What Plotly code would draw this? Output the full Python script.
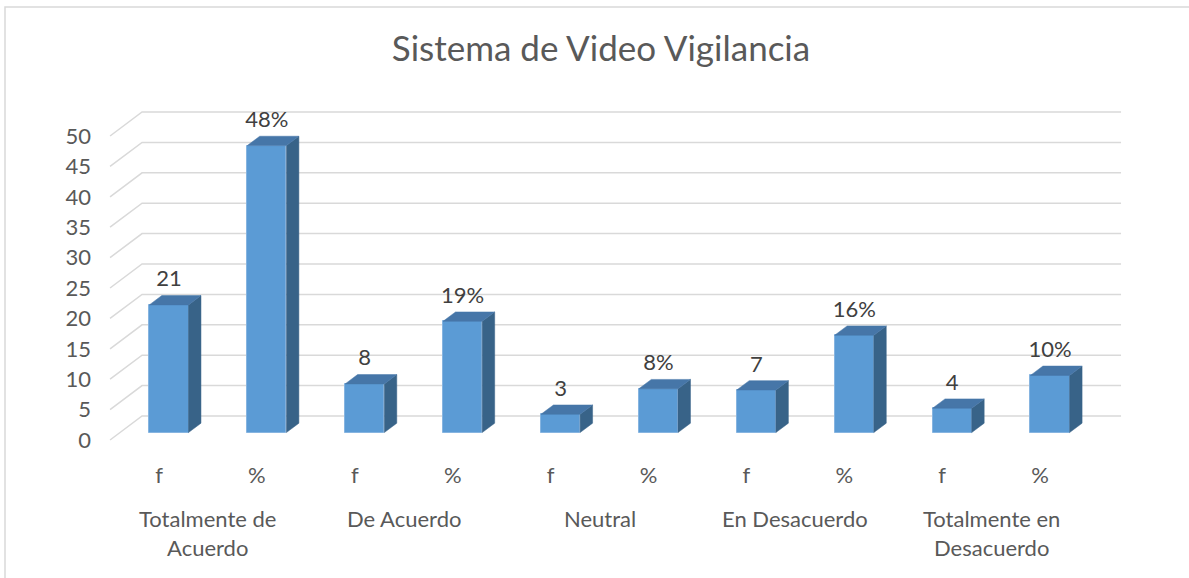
import plotly.graph_objects as go

# ---------------- data ----------------
title_text = "Sistema de Video Vigilancia"
groups = ["Totalmente de<br>Acuerdo", "De Acuerdo", "Neutral", "En Desacuerdo", "Totalmente en<br>Desacuerdo"]
sub_labels = ["f", "%"]
f_values = [21, 8, 3, 7, 4]
pct_values = [47.2, 18.3, 7.2, 16.0, 9.4]
f_text = ["21", "8", "3", "7", "4"]
pct_text = ["48%", "19%", "8%", "16%", "10%"]
y_ticks = [0, 5, 10, 15, 20, 25, 30, 35, 40, 45, 50]

# interleave f / % per group
values, texts, tick_text = [], [], []
for fv, pv, ft, pt in zip(f_values, pct_values, f_text, pct_text):
    values += [fv, pv]
    texts += [ft, pt]
    tick_text += sub_labels
positions = list(range(len(values)))

# ---------------- layout geometry (pixels) ----------------
W, H = 1189, 578
L, R, T, B = 92, 1149, 90, 460
PX_X = 97.9          # px per slot
X0_PIX = 159         # pixel of slot 0 (front)
PX_Y = 6.08          # px per unit
Y0_PIX = 440         # pixel of value 0 (front)
x_range = [(L - X0_PIX) / PX_X, (R - X0_PIX) / PX_X]
y_range = [(Y0_PIX - B) / PX_Y, (Y0_PIX - T) / PX_Y]

# oblique "3D" depth offsets (in data units)
DX = 32 / PX_X
DY = 24 / PX_Y
FD, BD = 0.31, 0.70   # bar front / back depth fractions
BW = 0.40             # bar width (slots)

FRONT = "#5B9BD5"
TOP = "#4676A8"
SIDE = "#386388"
GRID = "#D9D9D9"
TXT = "#595959"
FONT = "Lato"
FS = 22

fig = go.Figure()

# side and top faces
for x, v in zip(positions, values):
    xc = x + FD * DX
    xl, xr = xc - BW / 2, xc + BW / 2
    yb = FD * DY
    yt = v + FD * DY
    ddx, ddy = (BD - FD) * DX, (BD - FD) * DY
    fig.add_trace(go.Scatter(
        x=[xr, xr + ddx, xr + ddx, xr, xr],
        y=[yb, yb + ddy, yt + ddy, yt, yb],
        mode="lines", fill="toself", fillcolor=SIDE,
        line=dict(width=0.5, color=SIDE), hoverinfo="skip", showlegend=False))
    fig.add_trace(go.Scatter(
        x=[xl, xl + ddx, xr + ddx, xr, xl],
        y=[yt, yt + ddy, yt + ddy, yt, yt],
        mode="lines", fill="toself", fillcolor=TOP,
        line=dict(width=0.5, color=TOP), hoverinfo="skip", showlegend=False))

# front faces
fig.add_trace(go.Bar(
    x=[p + FD * DX for p in positions], y=values, base=[FD * DY] * len(values),
    width=BW, marker=dict(color=FRONT, line=dict(color="#86B4E0", width=1)),
    showlegend=False, hoverinfo="skip"))

# data labels
fig.add_trace(go.Scatter(
    x=[p + FD * DX for p in positions], y=[v + FD * DY + DY for v in values],
    mode="text", text=texts, textposition="middle center",
    textfont=dict(family=FONT, size=FS, color="#404040"),
    cliponaxis=False, showlegend=False, hoverinfo="skip"))

# gridlines on back wall with perspective slants (drawn below the bars)
x_left, x_right = -0.5, len(values) - 0.5
shapes = []
for t in y_ticks:
    path = f"M {x_left},{t} L {x_left + DX},{t + DY} L {x_right + DX},{t + DY}"
    shapes.append(dict(type="path", path=path, xref="x", yref="y", layer="below",
                       line=dict(color=GRID, width=1.5)))

# chart border
def px2paper_x(px):
    return (px - L) / (R - L)

def px2paper_y(py):
    return (B - py) / (B - T)

shapes.append(dict(type="rect", xref="paper", yref="paper",
                   x0=px2paper_x(5), x1=px2paper_x(1200), y0=px2paper_y(600), y1=px2paper_y(7),
                   line=dict(color=GRID, width=1.5), layer="below"))

# group labels
annotations = []
for i, g in enumerate(groups):
    annotations.append(dict(
        x=2 * i + 0.5, xref="x", y=px2paper_y(503), yref="paper",
        text=g, showarrow=False, xanchor="center", yanchor="top",
        font=dict(family=FONT, size=FS, color=TXT)))

fig.update_layout(
    width=W, height=H,
    paper_bgcolor="white", plot_bgcolor="white",
    margin=dict(l=L, r=W - R, t=T, b=H - B, pad=0),
    title=dict(text=title_text, x=601 / W, xanchor="center", y=1 - 49 / H, yanchor="middle",
               yref="container", font=dict(family=FONT, size=35, color=TXT)),
    xaxis=dict(range=x_range, tickmode="array", tickvals=positions, ticktext=tick_text,
               showgrid=False, zeroline=False, showline=False, ticks="",
               tickfont=dict(family=FONT, size=FS, color=TXT)),
    yaxis=dict(range=y_range, tickmode="array", tickvals=y_ticks,
               showgrid=False, zeroline=False, showline=False, ticks="",
               tickfont=dict(family=FONT, size=FS, color=TXT)),
    shapes=shapes, annotations=annotations, bargap=0,
)

fig.write_html("out.html", config={"displayModeBar": False},
               post_script="document.body.style.margin='0px';")
